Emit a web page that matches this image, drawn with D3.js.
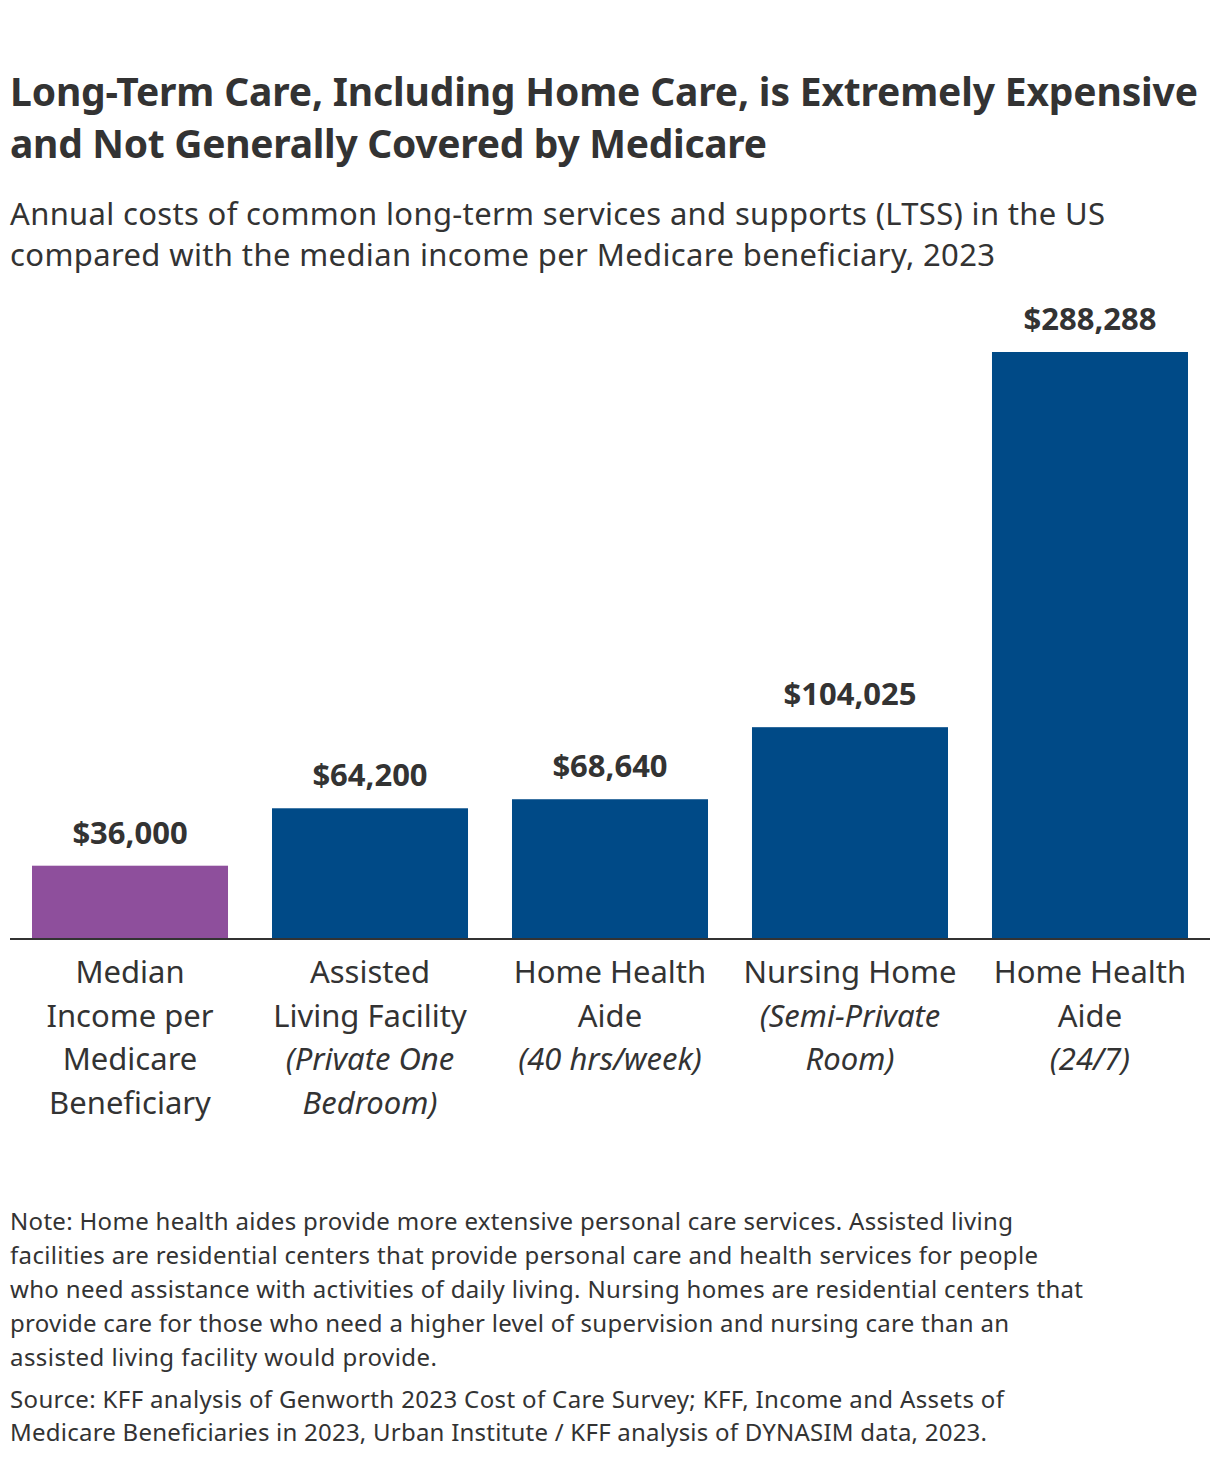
<!DOCTYPE html>
<html>
<head>
<meta charset="utf-8">
<script src="https://cdn.jsdelivr.net/npm/d3@7"></script>
<style>
  body { margin: 0; background: #fff; }
  svg { display: block; font-family: "Noto Sans", "Open Sans", sans-serif; }
</style>
</head>
<body>
<svg id="chart"></svg>
<script>
// data
let categories = ["median", "assisted", "homeAide40", "nursing", "homeAide247"];
let values = [36000, 64200, 68640, 104025, 288288];
let valueLabels = ["$36,000", "$64,200", "$68,640", "$104,025", "$288,288"];
let labelLines = [
    ["Median", "Income per", "Medicare", "Beneficiary"],
    ["Assisted", "Living Facility", "(Private One", "Bedroom)"],
    ["Home Health", "Aide", "(40 hrs/week)"],
    ["Nursing Home", "(Semi-Private", "Room)"],
    ["Home Health", "Aide", "(24/7)"]
];
let italicFrom = [99, 2, 2, 1, 2];
let barColors = ["#8e4f9c", "#004a87", "#004a87", "#004a87", "#004a87"];

let titleLines = [
    "Long-Term Care, Including Home Care, is Extremely Expensive",
    "and Not Generally Covered by Medicare"
];
let subtitleLines = [
    "Annual costs of common long-term services and supports (LTSS) in the US",
    "compared with the median income per Medicare beneficiary, 2023"
];
let noteLines = [
    "Note: Home health aides provide more extensive personal care services. Assisted living",
    "facilities are residential centers that provide personal care and health services for people",
    "who need assistance with activities of daily living. Nursing homes are residential centers that",
    "provide care for those who need a higher level of supervision and nursing care than an",
    "assisted living facility would provide."
];
let sourceLines = [
    "Source: KFF analysis of Genworth 2023 Cost of Care Survey; KFF, Income and Assets of",
    "Medicare Beneficiaries in 2023, Urban Institute / KFF analysis of DYNASIM data, 2023."
];
// measured line widths in the reference, used to fit the substitute font
let titleWidths = [1188, 757];
let subtitleWidths = [1095, 985];
let noteWidths = [1003, 1028, 1073, 999, 427];
let sourceWidths = [994, 977];

function drawChart(){
    let config = chartConfig();
    let scales = chartScales(config);
    drawText(config);
    drawBars(scales, config);
    drawLabels(scales, config);
}

function chartConfig(){
    let width = 1220;
    let height = 1460;
    let margin = { top: 352, bottom: 521, left: 10, right: 10 };
    let bodyHeight = height - margin.top - margin.bottom;
    let bodyWidth = width - margin.left - margin.right;
    let container = d3.select("#chart");
    container.attr("width", width).attr("height", height);
    let textColor = "#333333";
    return {width, height, margin, bodyHeight, bodyWidth, container, textColor};
}

function chartScales(config){
    let {bodyWidth, bodyHeight} = config;
    let xScale = d3.scaleBand()
        .range([0, bodyWidth])
        .domain(categories)
        .paddingInner(0.1833)
        .paddingOuter(0.0917);
    let yScale = d3.scaleLinear()
        .range([bodyHeight, 0])
        .domain([0, d3.max(values)]);
    return {xScale, yScale};
}

function textBlock(container, lines, widths, x, y, lineHeight, size, weight, color){
    let t = container.append("text")
        .attr("x", x)
        .attr("y", y)
        .attr("font-size", size)
        .attr("font-weight", weight)
        .attr("fill", color);
    t.selectAll("tspan").data(lines).enter().append("tspan")
        .attr("x", x)
        .attr("dy", (d, i) => i == 0 ? 0 : lineHeight)
        .text(d => d)
        .each(function(d, i){
            let w = this.getComputedTextLength();
            // only nudge the spacing, never squash the glyphs
            if (Math.abs(w - widths[i]) / widths[i] < 0.1) {
                d3.select(this).attr("textLength", widths[i]).attr("lengthAdjust", "spacing");
            }
        });
}

function drawText(config){
    let {container, textColor} = config;
    textBlock(container, titleLines, titleWidths, 10, 106, 52, 39, 700, textColor);
    textBlock(container, subtitleLines, subtitleWidths, 10, 225, 41, 31, 400, textColor);
    textBlock(container, noteLines, noteWidths, 10, 1230, 34, 24, 400, textColor);
    textBlock(container, sourceLines, sourceWidths, 10, 1408, 33, 24, 400, textColor);
}

function drawBars(scales, config){
    let {margin, container, bodyHeight, bodyWidth} = config;
    let {xScale, yScale} = scales;
    let body = container.append("g")
        .attr("transform", `translate(${margin.left},${margin.top})`);
    body.selectAll(".bar").data(values).enter().append("rect")
        .attr("class", "bar")
        .attr("x", (d, i) => xScale(categories[i]))
        .attr("width", xScale.bandwidth())
        .attr("y", d => yScale(d))
        .attr("height", d => bodyHeight - yScale(d))
        .attr("fill", (d, i) => barColors[i]);
    body.append("line")
        .attr("x1", 0).attr("x2", bodyWidth)
        .attr("y1", bodyHeight).attr("y2", bodyHeight)
        .attr("stroke", "#333").attr("stroke-width", 2);
    config.body = body;
}

function drawLabels(scales, config){
    let {body, bodyHeight, textColor} = config;
    let {xScale, yScale} = scales;
    body.selectAll(".value").data(values).enter().append("text")
        .attr("class", "value")
        .attr("x", (d, i) => xScale(categories[i]) + xScale.bandwidth() / 2)
        .attr("y", d => yScale(d) - 22)
        .attr("text-anchor", "middle")
        .attr("font-size", 31)
        .attr("font-weight", 700)
        .attr("fill", textColor)
        .text((d, i) => valueLabels[i]);
    let groups = body.selectAll(".cat").data(categories).enter().append("text")
        .attr("class", "cat")
        .attr("text-anchor", "middle")
        .attr("font-size", 31)
        .attr("fill", textColor)
        .attr("x", d => xScale(d) + xScale.bandwidth() / 2)
        .attr("y", bodyHeight + 44);
    groups.each(function(d, i){
        let cx = xScale(d) + xScale.bandwidth() / 2;
        d3.select(this).selectAll("tspan").data(labelLines[i]).enter().append("tspan")
            .attr("x", cx)
            .attr("dy", (l, j) => j == 0 ? 0 : 43.5)
            .attr("font-style", (l, j) => j >= italicFrom[i] ? "italic" : "normal")
            .text(l => l);
    });
}

drawChart();
</script>
</body>
</html>
